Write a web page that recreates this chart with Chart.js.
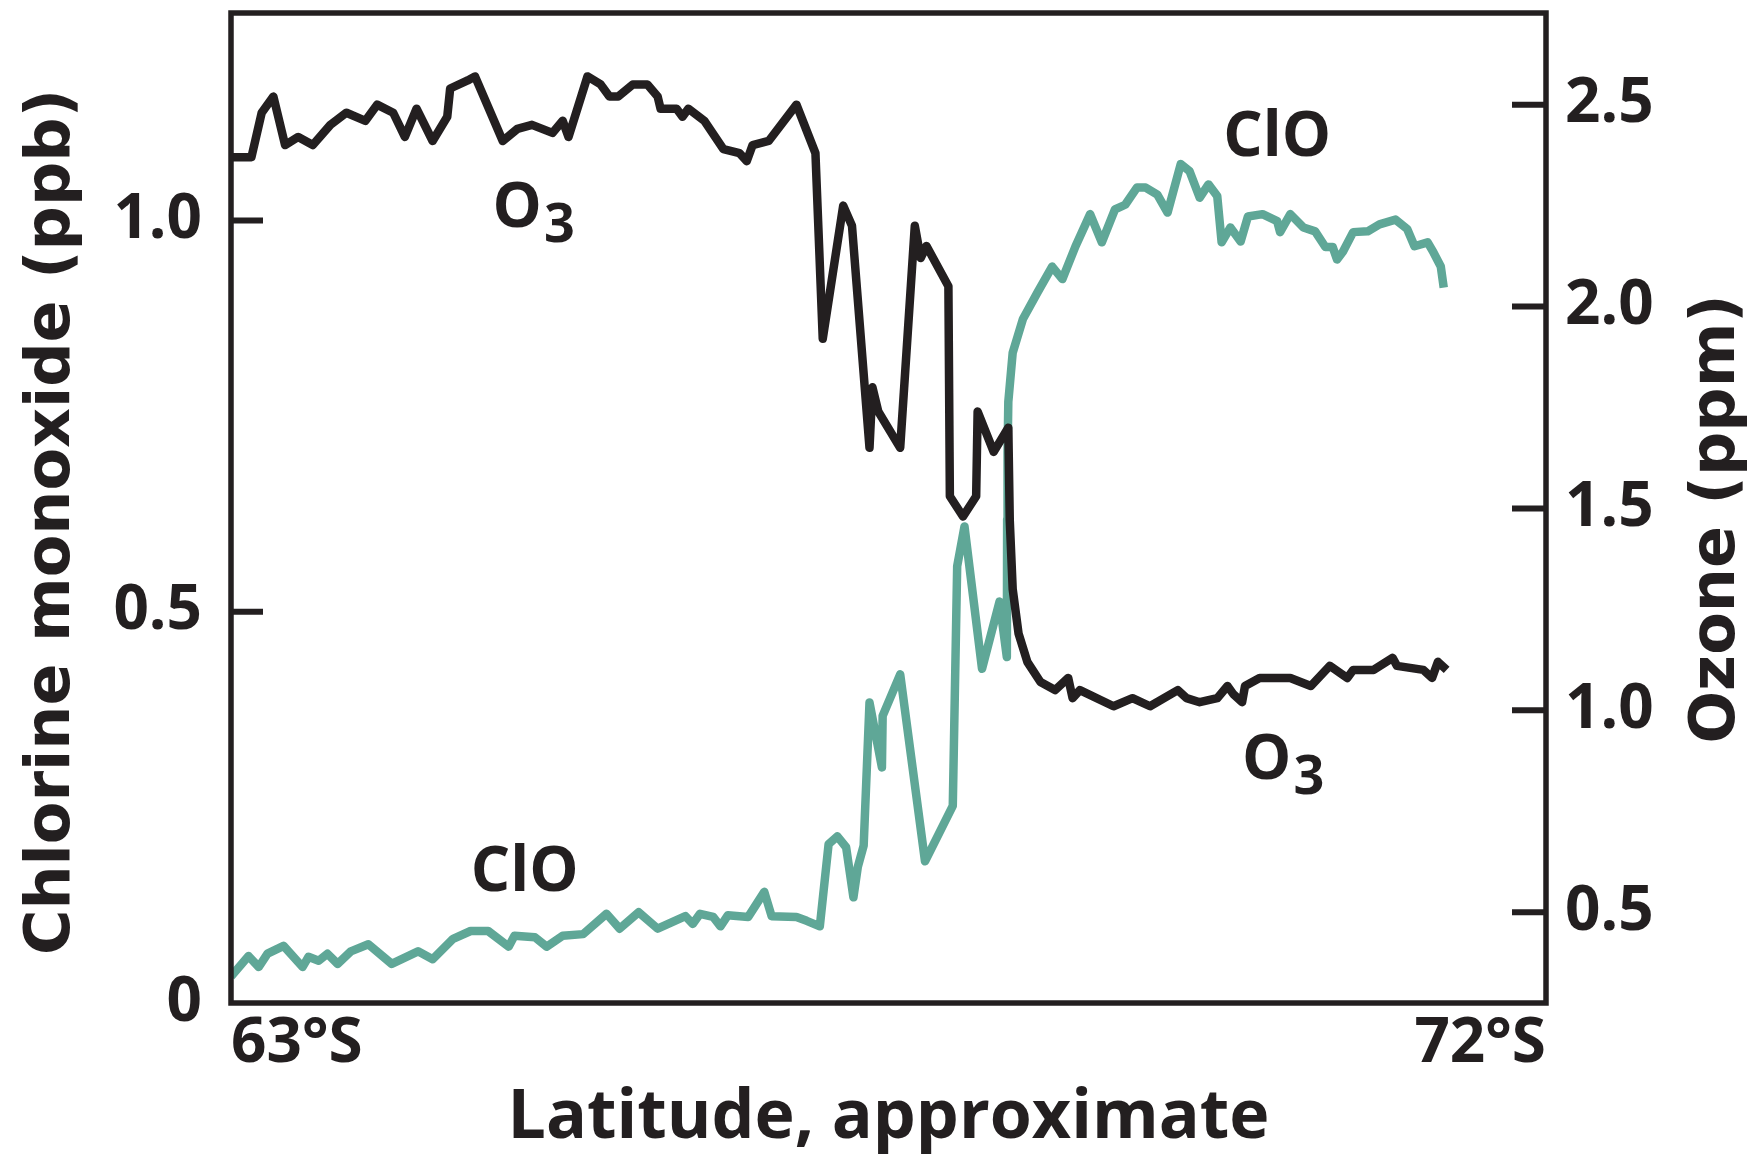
<!DOCTYPE html>
<html>
<head>
<meta charset="utf-8">
<script src="https://cdn.jsdelivr.net/npm/chart.js@4.4.0/dist/chart.umd.min.js"></script>
<style>
  html, body { margin: 0; padding: 0; background: #fff; }
  #wrap { width: 1761px; height: 1163px; }
</style>
</head>
<body>
<div id="wrap"><canvas id="chart" width="1761" height="1163"></canvas></div>
<script>
// Latitude (degrees south) and ozone, right axis (ppm)
const o3Lat = [63.00, 63.14, 63.21, 63.29, 63.37, 63.46, 63.56, 63.68, 63.79, 63.92,
  64.00, 64.11, 64.19, 64.27, 64.38, 64.48, 64.50, 64.62, 64.67, 64.86,
  64.96, 65.06, 65.20, 65.27, 65.31, 65.44, 65.53, 65.59, 65.65, 65.75,
  65.85, 65.92, 65.94, 66.05, 66.09, 66.13, 66.24, 66.37, 66.48, 66.53,
  66.57, 66.68, 66.87, 67.00, 67.05, 67.19, 67.25, 67.37, 67.39, 67.43,
  67.58, 67.68, 67.72, 67.76, 67.91, 67.92, 68.01, 68.10, 68.11, 68.22,
  68.32, 68.33, 68.35, 68.39, 68.45, 68.54, 68.64, 68.73, 68.76, 68.81,
  69.04, 69.17, 69.29, 69.48, 69.54, 69.63, 69.75, 69.82, 69.86, 69.92,
  69.94, 70.04, 70.25, 70.39, 70.52, 70.64, 70.68, 70.82, 70.95, 70.98,
  71.16, 71.22, 71.26, 71.32];
const o3Ppm = [2.37, 2.37, 2.48, 2.52, 2.40, 2.42, 2.40, 2.45, 2.48, 2.46,
  2.50, 2.48, 2.42, 2.49, 2.41, 2.47, 2.54, 2.56, 2.57, 2.41,
  2.44, 2.45, 2.43, 2.46, 2.42, 2.57, 2.55, 2.52, 2.52, 2.55,
  2.55, 2.52, 2.49, 2.49, 2.47, 2.49, 2.46, 2.39, 2.38, 2.36,
  2.40, 2.41, 2.50, 2.38, 1.92, 2.25, 2.20, 1.65, 1.80, 1.74,
  1.65, 2.20, 2.12, 2.15, 2.05, 1.53, 1.48, 1.53, 1.74, 1.64,
  1.70, 1.47, 1.30, 1.19, 1.12, 1.07, 1.05, 1.08, 1.03, 1.05,
  1.01, 1.03, 1.01, 1.05, 1.03, 1.02, 1.03, 1.06, 1.04, 1.02,
  1.06, 1.08, 1.08, 1.06, 1.11, 1.08, 1.10, 1.10, 1.13, 1.11,
  1.10, 1.08, 1.12, 1.10];

// Chlorine monoxide, left axis (ppb)
const cloLat = [63.00, 63.12, 63.19, 63.25, 63.36, 63.49, 63.53, 63.60, 63.66, 63.73,
  63.82, 63.94, 64.10, 64.28, 64.38, 64.52, 64.64, 64.76, 64.90, 64.94,
  65.08, 65.16, 65.27, 65.41, 65.57, 65.66, 65.79, 65.92, 66.11, 66.16,
  66.21, 66.30, 66.35, 66.40, 66.54, 66.65, 66.70, 66.87, 66.94, 67.03,
  67.09, 67.15, 67.21, 67.26, 67.29, 67.33, 67.37, 67.455, 67.46, 67.58,
  67.75, 67.94, 67.97, 68.02, 68.14, 68.26, 68.31, 68.312, 68.315, 68.32,
  68.35, 68.42, 68.52, 68.62, 68.69, 68.78, 68.88, 68.96, 69.05, 69.12,
  69.20, 69.26, 69.34, 69.41, 69.50, 69.56, 69.63, 69.69, 69.75, 69.78,
  69.84, 69.91, 69.96, 70.06, 70.16, 70.18, 70.25, 70.34, 70.42, 70.49,
  70.54, 70.57, 70.61, 70.68, 70.78, 70.86, 70.97, 71.05, 71.10, 71.19,
  71.23, 71.28, 71.30];
const cloPpb = [0.034, 0.060, 0.046, 0.063, 0.073, 0.046, 0.059, 0.054, 0.063, 0.050,
  0.066, 0.075, 0.050, 0.066, 0.056, 0.082, 0.092, 0.092, 0.072, 0.086,
  0.084, 0.072, 0.086, 0.088, 0.114, 0.095, 0.116, 0.095, 0.111, 0.101,
  0.114, 0.110, 0.098, 0.112, 0.110, 0.142, 0.111, 0.110, 0.105, 0.098,
  0.203, 0.213, 0.199, 0.135, 0.174, 0.201, 0.384, 0.301, 0.367, 0.420,
  0.181, 0.252, 0.558, 0.609, 0.427, 0.513, 0.442, 0.618, 0.704, 0.768,
  0.831, 0.874, 0.908, 0.941, 0.925, 0.967, 1.008, 0.972, 1.014, 1.020,
  1.042, 1.042, 1.033, 1.010, 1.072, 1.063, 1.029, 1.046, 1.031, 0.972,
  0.991, 0.973, 1.005, 1.008, 0.999, 0.985, 1.008, 0.991, 0.986, 0.966,
  0.966, 0.950, 0.960, 0.985, 0.986, 0.995, 1.001, 0.989, 0.967, 0.972,
  0.959, 0.941, 0.914];

// Tick values of the three axes
const latTicks = [63, 72];
const cloTicks = [0, 0.5, 1.0];
const o3Ticks = [0.5, 1.0, 1.5, 2.0, 2.5];

// In-plot series labels, anchored in data units
const seriesLabels = [
  { text: "O", sub: "3", lat: 64.79, value: 2.197, axis: "yO3", align: "left" },
  { text: "ClO", sub: "", lat: 70.16, value: 1.082, axis: "yClO", align: "center" },
  { text: "O", sub: "3", lat: 69.92, value: 0.83, axis: "yO3", align: "left" },
  { text: "ClO", sub: "", lat: 65.01, value: 0.143, axis: "yClO", align: "center" },
];

const INK = "#231f20";
const TEAL = "#5fa797";
const TICK_FONT = { family: "'Open Sans', sans-serif", weight: "bold", size: 62 };

const toPoints = (xs, ys) => xs.map((x, i) => ({ x: x, y: ys[i] }));

// Fixed scale sizes so the plot box sits where it does in the figure
const fixWidth = (w) => (s) => {
  s.width = w;
  s.paddingTop = 0;
  s.paddingBottom = 0;
};

// Frame, inward tick marks, rotated axis titles and series labels
const framePlugin = {
  id: "frame",
  afterDatasetsDraw(chart) {
    const ctx = chart.ctx;
    const area = chart.chartArea;
    const yClO = chart.scales.yClO;
    const yO3 = chart.scales.yO3;

    ctx.save();
    ctx.strokeStyle = INK;
    ctx.lineWidth = 5.5;
    ctx.strokeRect(area.left, area.top, area.right - area.left, area.bottom - area.top);

    ctx.lineWidth = 6;
    ctx.beginPath();
    cloTicks.filter((v) => v > 0).forEach((v) => {
      const y = yClO.getPixelForValue(v);
      ctx.moveTo(area.left, y);
      ctx.lineTo(area.left + 32, y);
    });
    o3Ticks.forEach((v) => {
      const y = yO3.getPixelForValue(v);
      ctx.moveTo(area.right, y);
      ctx.lineTo(area.right - 34, y);
    });
    ctx.stroke();

    // Both y titles read bottom to top
    ctx.fillStyle = INK;
    ctx.font = "bold 62px 'DejaVu Sans'";
    ctx.textAlign = "center";
    ctx.textBaseline = "middle";
    [["Chlorine monoxide (ppb)", 53, 522], ["Ozone (ppm)", 1718, 519]].forEach(([t, x, y]) => {
      ctx.save();
      ctx.translate(x, y);
      ctx.rotate(-Math.PI / 2);
      ctx.fillText(t, 0, 0);
      ctx.restore();
    });

    ctx.textBaseline = "alphabetic";
    seriesLabels.forEach((l) => {
      const x = chart.scales.x.getPixelForValue(l.lat);
      const y = chart.scales[l.axis].getPixelForValue(l.value);
      ctx.font = "bold 62px 'Open Sans'";
      ctx.textAlign = l.align;
      ctx.fillText(l.text, x, y);
      if (l.sub) {
        const w = ctx.measureText(l.text).width;
        ctx.font = "bold 54px 'Open Sans'";
        ctx.textAlign = "left";
        ctx.fillText(l.sub, x + w + 2, y + 15);
      }
    });
    ctx.restore();
  },
};

new Chart(document.getElementById("chart"), {
  type: "line",
  data: {
    datasets: [
      {
        label: "O3",
        data: toPoints(o3Lat, o3Ppm),
        yAxisID: "yO3",
        borderColor: INK,
        borderWidth: 8.5,
        borderJoinStyle: "round",
        pointRadius: 0,
        tension: 0,
        fill: false,
      },
      {
        label: "ClO",
        data: toPoints(cloLat, cloPpb),
        yAxisID: "yClO",
        borderColor: TEAL,
        borderWidth: 8.5,
        borderJoinStyle: "round",
        pointRadius: 0,
        tension: 0,
        fill: false,
      },
    ],
  },
  options: {
    responsive: false,
    animation: false,
    devicePixelRatio: 1,
    layout: { padding: { top: 13, left: 0, right: 0, bottom: 0 } },
    plugins: {
      legend: { display: false },
      tooltip: { enabled: false },
    },
    scales: {
      x: {
        type: "linear",
        min: 63,
        max: 72,
        grid: { display: false, drawTicks: false },
        border: { display: false },
        afterBuildTicks: (s) => { s.ticks = latTicks.map((v) => ({ value: v })); },
        afterFit: (s) => {
          s.height = 160;
          s.paddingLeft = 0;
          s.paddingRight = 0;
        },
        ticks: {
          align: "inner",
          padding: 4,
          maxRotation: 0,
          color: INK,
          font: TICK_FONT,
          callback: (v) => v + "°S",
        },
        title: {
          display: true,
          text: "Latitude, approximate",
          color: INK,
          font: { family: "'Open Sans', sans-serif", weight: "bold", size: 68 },
          padding: { top: 0, bottom: 4 },
        },
      },
      yClO: {
        type: "linear",
        position: "left",
        min: 0,
        max: 1.265,
        grid: { display: false, drawTicks: false },
        border: { display: false },
        afterBuildTicks: (s) => { s.ticks = cloTicks.map((v) => ({ value: v })); },
        afterFit: fixWidth(231),
        ticks: {
          padding: 29,
          color: INK,
          font: TICK_FONT,
          callback: (v) => (v === 0 ? "0" : v.toFixed(1)),
        },
      },
      yO3: {
        type: "linear",
        position: "right",
        min: 0.275,
        max: 2.727,
        grid: { display: false, drawTicks: false },
        border: { display: false },
        afterBuildTicks: (s) => { s.ticks = o3Ticks.map((v) => ({ value: v })); },
        afterFit: fixWidth(215),
        ticks: {
          padding: 19,
          color: INK,
          font: TICK_FONT,
          callback: (v) => v.toFixed(1),
        },
      },
    },
  },
  plugins: [framePlugin],
});
</script>
</body>
</html>
